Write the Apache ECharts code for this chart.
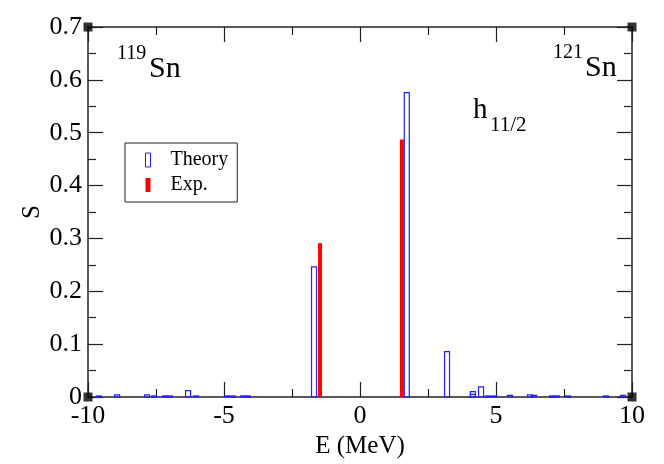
<!DOCTYPE html>
<html>
<head>
<meta charset="utf-8">
<script src="https://cdn.jsdelivr.net/npm/echarts@6/dist/echarts.min.js"></script>
<style>
  html, body { margin: 0; padding: 0; background: #fff; }
  #chart { width: 664px; height: 464px; }
</style>
</head>
<body>
<div id="chart"></div>
<script>
// theory strengths (blue outline bars)
var theoryE = [-9.6, -8.93, -7.83, -7.57, -7.17, -6.99, -6.32, -6.03, -4.89, -4.67, -4.30, -4.12,
               -1.69, 1.72, 3.2, 4.15, 4.15, 4.45, 4.7, 4.93, 5.51, 6.25, 6.4, 7.06, 7.24, 7.65, 9.04, 9.67];
var theoryS = [0.002, 0.004, 0.004, 0.002, 0.002, 0.002, 0.012, 0.002, 0.002, 0.002, 0.002, 0.002,
               0.246, 0.576, 0.086, 0.010, 0.005, 0.019, 0.002, 0.002, 0.003, 0.004, 0.003, 0.002, 0.002, 0.002, 0.002, 0.003];
// experimental strengths (red bars)
var expE = [-1.47, 1.54];
var expS = [0.291, 0.487];
// axis ticks
var xTicks = [-10, -5, 0, 5, 10];
var yTicks = [0, 0.1, 0.2, 0.3, 0.4, 0.5, 0.6, 0.7];

var serif = 'Liberation Serif';
var axisColor = '#222';

function pairs(xs, ys) {
    var out = [];
    for (var i = 0; i < xs.length; i++) out.push([xs[i], ys[i]]);
    return out;
}

function barItem(width, style) {
    return function (params, api) {
        var top = api.coord([api.value(0), api.value(1)]);
        var base = api.coord([api.value(0), 0]);
        return {
            type: 'rect',
            shape: { x: top[0] - width / 2, y: top[1], width: width, height: base[1] - top[1] },
            style: style
        };
    };
}

var chart = echarts.init(document.getElementById('chart'));

var axisBase = {
    type: 'value',
    axisLine: { show: true, onZero: false, lineStyle: { color: axisColor, width: 1.5 } },
    axisTick: { show: true, inside: true, length: 15, lineStyle: { color: axisColor, width: 1.2 } },
    minorTick: { show: true, splitNumber: 2, length: 8, lineStyle: { color: axisColor, width: 1.2 } },
    splitLine: { show: false }
};

var option = {
    animation: false,
    backgroundColor: '#fff',
    grid: { left: 88, right: 32, top: 27, bottom: 67 },
    xAxis: [
        Object.assign({}, axisBase, {
            position: 'bottom', min: xTicks[0], max: xTicks[xTicks.length - 1], interval: 5,
            name: 'E (MeV)', nameLocation: 'middle', nameGap: 36,
            nameTextStyle: { fontFamily: serif, fontSize: 25, color: '#000' },
            axisLabel: { fontFamily: serif, fontSize: 26, color: '#000', margin: 6 }
        }),
        Object.assign({}, axisBase, {
            position: 'top', min: xTicks[0], max: xTicks[xTicks.length - 1], interval: 5,
            axisLabel: { show: false }
        })
    ],
    yAxis: [
        Object.assign({}, axisBase, {
            position: 'left', min: yTicks[0], max: yTicks[yTicks.length - 1], interval: 0.1,
            name: 'S', nameLocation: 'middle', nameGap: 43, nameMoveOverlap: false,
            nameTextStyle: { fontFamily: serif, fontSize: 25, color: '#000' },
            axisLabel: { fontFamily: serif, fontSize: 26, color: '#000', margin: 6 }
        }),
        Object.assign({}, axisBase, {
            position: 'right', min: yTicks[0], max: yTicks[yTicks.length - 1], interval: 0.1,
            axisLabel: { show: false }
        })
    ],
    legend: {
        left: 125, top: 143,
        orient: 'vertical',
        padding: [7, 9, 7, 20],
        itemGap: 5,
        itemWidth: 5, itemHeight: 14,
        borderColor: '#222', borderWidth: 1,
        textStyle: { fontFamily: serif, fontSize: 20, color: '#000', padding: [0, 0, 0, 15] },
        data: [
            { name: 'Theory', icon: 'rect', itemStyle: { color: '#fff', borderColor: '#2020ff', borderWidth: 1 } },
            { name: 'Exp.', icon: 'rect', itemStyle: { color: '#ff0000' } }
        ]
    },
    series: [
        {
            name: 'Theory', type: 'custom',
            data: pairs(theoryE, theoryS),
            itemStyle: { color: '#2020ff' },
            renderItem: barItem(5, { fill: 'none', stroke: '#2020ff', lineWidth: 1.2 })
        },
        {
            name: 'Exp.', type: 'custom',
            data: pairs(expE, expS),
            itemStyle: { color: '#ff0000' },
            renderItem: barItem(4, { fill: '#ff0000' })
        },
        {
            // corner handles
            type: 'scatter', symbol: 'rect', symbolSize: 9, clip: false, silent: true,
            itemStyle: { color: '#000' },
            data: [[-10, 0], [-10, 0.7], [10, 0.7], [10, 0]]
        }
    ],
    graphic: [
        { type: 'text', left: 117, top: 44, style: { text: '119', font: '20px "Liberation Serif"', fill: '#000' } },
        { type: 'text', left: 149, top: 54, style: { text: 'Sn', font: '30px "Liberation Serif"', fill: '#000' } },
        { type: 'text', left: 553, top: 43, style: { text: '121', font: '20px "Liberation Serif"', fill: '#000' } },
        { type: 'text', left: 585, top: 53, style: { text: 'Sn', font: '30px "Liberation Serif"', fill: '#000' } },
        { type: 'text', left: 473, top: 96, style: { text: 'h', font: '29px "Liberation Serif"', fill: '#000' } },
        { type: 'text', left: 490, top: 115, style: { text: '11/2', font: '21px "Liberation Serif"', fill: '#000' } }
    ]
};

chart.setOption(option);
</script>
</body>
</html>
